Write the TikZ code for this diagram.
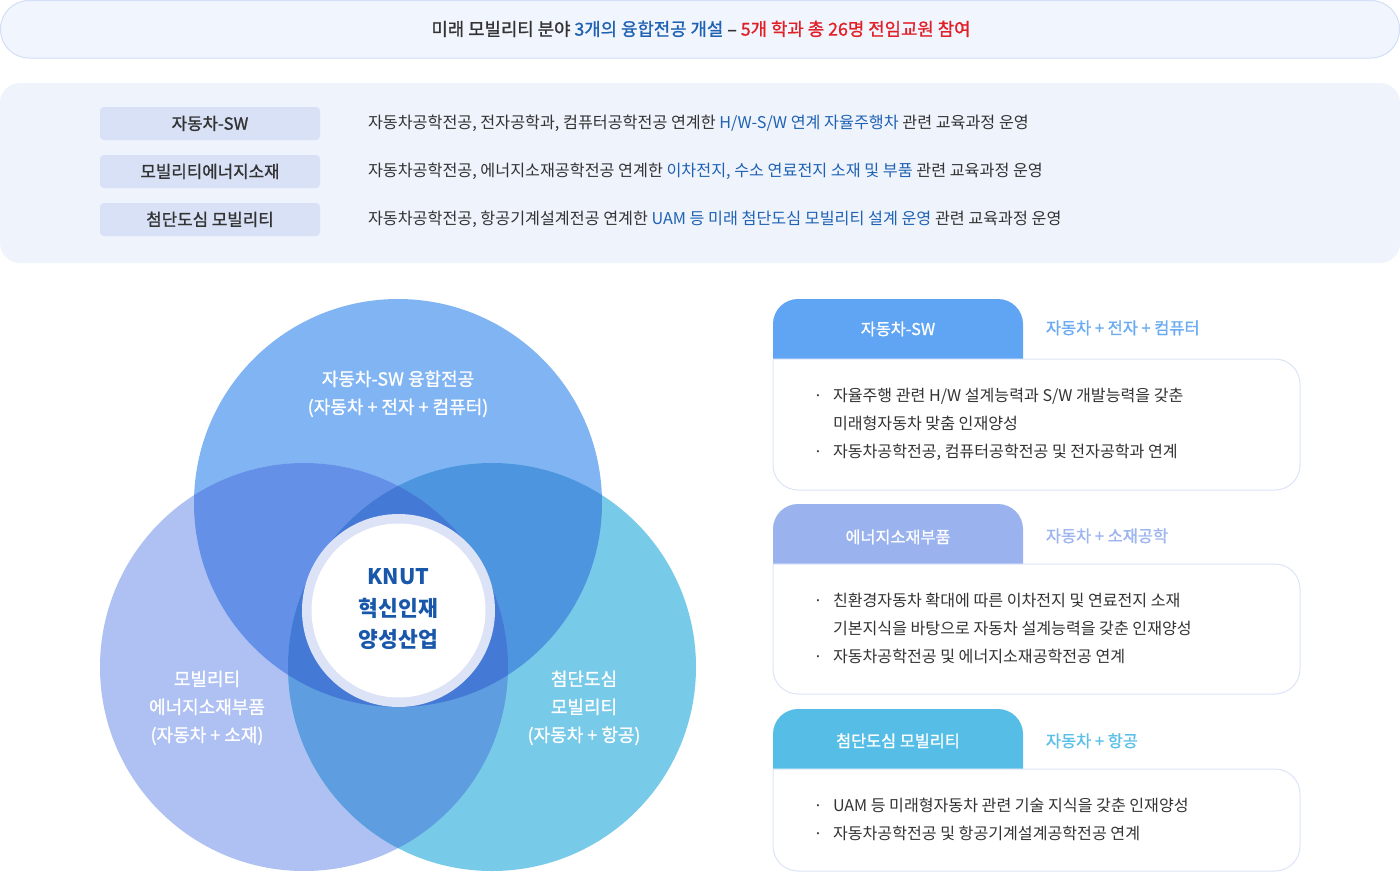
\documentclass[tikz,border=0pt]{standalone}
\usepackage{fontspec}
\setmainfont{Noto Sans CJK KR}
\newfontfamily\mfont{Noto Sans CJK KR}[FakeBold=1.1]
\definecolor{darktxt}{HTML}{333333}
\definecolor{bluetxt}{HTML}{1F62B3}
\definecolor{redtxt}{HTML}{E11F27}
\definecolor{knut}{HTML}{1957AA}
\definecolor{bannerfill}{HTML}{F1F5FE}
\definecolor{bannerline}{HTML}{D3DEF7}
\definecolor{panelfill}{HTML}{EFF3FC}
\definecolor{labelfill}{HTML}{D8E1F6}
\definecolor{bodyline}{HTML}{DCE4F7}
\definecolor{tabA}{HTML}{60A5F3}
\definecolor{tabB}{HTML}{9AB3EF}
\definecolor{tabC}{HTML}{56BEE6}
\definecolor{subA}{HTML}{6AABF2}
\definecolor{subB}{HTML}{9DB5F0}
\definecolor{subC}{HTML}{5BC0E8}
\definecolor{vT}{HTML}{80B4F3}
\definecolor{vL}{HTML}{AEC1F2}
\definecolor{vR}{HTML}{78CAE9}
\definecolor{vTL}{HTML}{6590E8}
\definecolor{vTR}{HTML}{4E95DF}
\definecolor{vLR}{HTML}{5E9EE0}
\definecolor{vAll}{HTML}{4479D6}
\definecolor{ringc}{HTML}{DCE3F6}
\begin{document}
\begin{tikzpicture}[x=1pt,y=-1pt,
  every node/.style={inner sep=0pt,outer sep=0pt},
  bannertxt/.style={anchor=base,font=\mfont\fontsize{17.8}{20}\selectfont,text=darktxt},
  labeltxt/.style={anchor=base,font=\mfont\fontsize{16.8}{20}\selectfont,text=darktxt},
  desctxt/.style={anchor=base west,font=\fontsize{16.2}{20}\selectfont,text=darktxt},
  venntxt/.style={anchor=base,font=\mfont\fontsize{18}{20}\selectfont,text=white},
  knuttxt/.style={anchor=base,font=\bfseries\fontsize{21.5}{24}\selectfont,text=knut},
  tabtxt/.style={anchor=base,font=\mfont\fontsize{16.3}{20}\selectfont,text=white},
  subtxt/.style={anchor=base west,font=\mfont\fontsize{16.4}{20}\selectfont},
  bullet/.style={anchor=base,font=\fontsize{16}{20}\selectfont,text=darktxt},
  bodytxt/.style={anchor=base west,font=\fontsize{16.1}{20}\selectfont,text=darktxt},
  labelbox/.style={fill=labelfill,rounded corners=4pt},
  bodybox/.style={draw=bodyline,line width=1pt,fill=white,rounded corners=25pt},
  tabshape/.style={rounded corners=25pt}
]
\useasboundingbox (0,0) rectangle (1400,873);
\fill[white] (0,0) rectangle (1400,873);

% ---------- banner ----------
\draw[fill=bannerfill,draw=bannerline,line width=1pt,rounded corners=28.5pt] (0.5,0.5) rectangle (1399.5,58);
\node[bannertxt] (banner) at (701,35.6) {미래 모빌리티 분야 \textcolor{bluetxt}{3개의 융합전공 개설} – \textcolor{redtxt}{5개 학과 총 26명 전임교원 참여}};

% ---------- panel ----------
\fill[panelfill,rounded corners=20pt] (0,83) rectangle (1400,263);
\fill[labelbox] (100,107) rectangle (320,140);
\fill[labelbox] (100,155) rectangle (320,188);
\fill[labelbox] (100,203) rectangle (320,236);
\node[labeltxt] (lab1) at (210,129.7) {자동차-SW};
\node[labeltxt] (lab2) at (210,177.7) {모빌리티에너지소재};
\node[labeltxt] (lab3) at (210,225.7) {첨단도심 모빌리티};
\node[desctxt] (desc1) at (368,128) {자동차공학전공, 전자공학과, 컴퓨터공학전공 연계한 \textcolor{bluetxt}{H/W-S/W 연계 자율주행차} 관련 교육과정 운영};
\node[desctxt] (desc2) at (368,176) {자동차공학전공, 에너지소재공학전공 연계한 \textcolor{bluetxt}{이차전지, 수소 연료전지 소재 및 부품} 관련 교육과정 운영};
\node[desctxt] (desc3) at (368,224) {자동차공학전공, 항공기계설계전공 연계한 \textcolor{bluetxt}{UAM 등 미래 첨단도심 모빌리티 설계 운영} 관련 교육과정 운영};

% ---------- venn ----------
\fill[vT] (398,503) circle[radius=204];
\fill[vL] (304,667) circle[radius=204];
\fill[vR] (492,667) circle[radius=204];
\begin{scope}
  \clip (398,503) circle[radius=204];
  \fill[vTL] (304,667) circle[radius=204];
  \fill[vTR] (492,667) circle[radius=204];
\end{scope}
\begin{scope}
  \clip (304,667) circle[radius=204];
  \fill[vLR] (492,667) circle[radius=204];
\end{scope}
\begin{scope}
  \clip (398,503) circle[radius=204];
  \clip (304,667) circle[radius=204];
  \fill[vAll] (492,667) circle[radius=204];
\end{scope}
\fill[ringc] (398.5,610.5) circle[radius=96.5];
\fill[white] (398.5,610.5) circle[radius=87];

\node[venntxt] (vt1) at (398,385.6) {자동차-SW 융합전공};
\node[venntxt] (vt2) at (398,413.6) {(자동차 + 전자 + 컴퓨터)};
\node[venntxt] (vl1) at (207,685.6) {모빌리티};
\node[venntxt] (vl2) at (207,713.6) {에너지소재부품};
\node[venntxt] (vl3) at (207,741.6) {(자동차 + 소재)};
\node[venntxt] (vr1) at (584,685.6) {첨단도심};
\node[venntxt] (vr2) at (584,713.6) {모빌리티};
\node[venntxt] (vr3) at (584,741.6) {(자동차 + 항공)};
\node[knuttxt] (k1) at (398.5,584.8) {KNUT};
\node[knuttxt] (k2) at (398.5,616.8) {혁신인재};
\node[knuttxt] (k3) at (398.5,647.8) {양성산업};

% ---------- card 1 ----------
\draw[bodybox] (773,359) -- (1300,359) -- (1300,490) -- (773,490) -- (773,359);
\fill[tabA,tabshape] (773,358.5) -- (773,299) -- (1023,299) -- (1023,358.5);
\node[tabtxt] (t1) at (898,335) {자동차-SW};
\node[subtxt,text=subA] (s1) at (1046,334) {자동차 + 전자 + 컴퓨터};
\node[bullet] (b11) at (818,401) {·};
\node[bodytxt] (c11) at (833,401) {자율주행 관련 H/W 설계능력과 S/W 개발능력을 갖춘};
\node[bodytxt] (c12) at (833,429) {미래형자동차 맞춤 인재양성};
\node[bullet] (b12) at (818,457) {·};
\node[bodytxt] (c13) at (833,457) {자동차공학전공, 컴퓨터공학전공 및 전자공학과 연계};

% ---------- card 2 ----------
\draw[bodybox] (773,564) -- (1300,564) -- (1300,694) -- (773,694) -- (773,564);
\fill[tabB,tabshape] (773,563.5) -- (773,504) -- (1023,504) -- (1023,563.5);
\node[tabtxt] (t2) at (898,543) {에너지소재부품};
\node[subtxt,text=subB] (s2) at (1046,542) {자동차 + 소재공학};
\node[bullet] (b21) at (818,606) {·};
\node[bodytxt] (c21) at (833,606) {친환경자동차 확대에 따른 이차전지 및 연료전지 소재};
\node[bodytxt] (c22) at (833,634) {기본지식을 바탕으로 자동차 설계능력을 갖춘 인재양성};
\node[bullet] (b22) at (818,662) {·};
\node[bodytxt] (c23) at (833,662) {자동차공학전공 및 에너지소재공학전공 연계};

% ---------- card 3 ----------
\draw[bodybox] (773,769) -- (1300,769) -- (1300,871) -- (773,871) -- (773,769);
\fill[tabC,tabshape] (773,768.5) -- (773,709) -- (1023,709) -- (1023,768.5);
\node[tabtxt] (t3) at (898,747) {첨단도심 모빌리티};
\node[subtxt,text=subC] (s3) at (1046,747) {자동차 + 항공};
\node[bullet] (b31) at (818,811) {·};
\node[bodytxt] (c31) at (833,811) {UAM 등 미래형자동차 관련 기술 지식을 갖춘 인재양성};
\node[bullet] (b32) at (818,839) {·};
\node[bodytxt] (c32) at (833,839) {자동차공학전공 및 항공기계설계공학전공 연계};
\end{tikzpicture}
\end{document}
